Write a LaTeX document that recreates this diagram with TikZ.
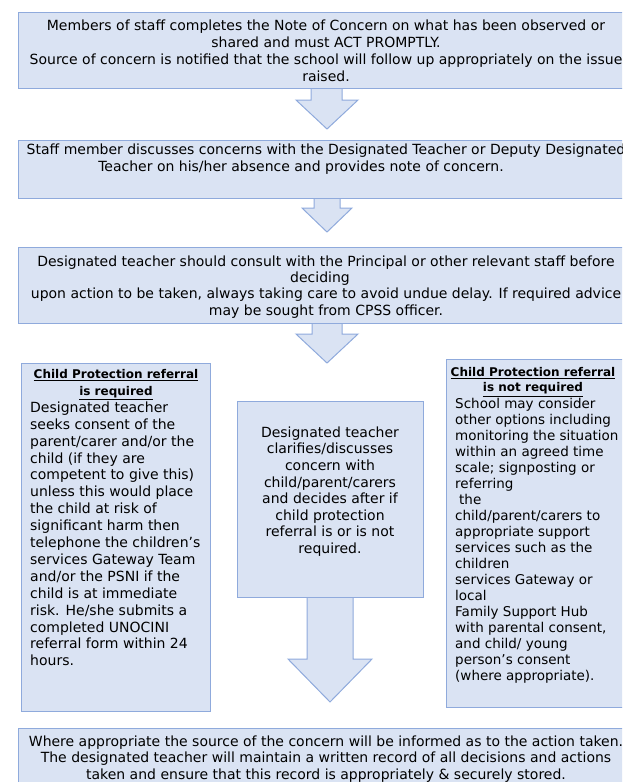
\documentclass[tikz,border=0pt]{standalone}
\usepackage{fontspec}
\setmainfont{DejaVu Sans}
\definecolor{boxfill}{HTML}{DAE3F3}
\definecolor{boxline}{HTML}{8FAADC}
\begin{document}
\begin{tikzpicture}[x=1pt,y=-1pt,
  box/.style={draw=boxline, fill=boxfill, line width=1pt, rectangle, inner sep=0pt, anchor=north west},
  blockarrow/.style={draw=boxline, fill=boxfill, line width=1pt, line join=miter},
  txt/.style={inner sep=0pt, align=center, anchor=north},
  body/.style={inner sep=0pt, align=left, anchor=north west},
  head/.style={inner sep=0pt, align=center, anchor=north, font=\fontsize{12}{16.5}\selectfont\bfseries}]
\useasboundingbox (0,0) rectangle (622,782);
\clip (0,0) rectangle (622,782);
% block arrows (drawn first, boxes cover their tops)
\draw[blockarrow] (311,80) -- (311,100) -- (296,100) -- (327,129) -- (358,100) -- (342,100) -- (342,80) -- cycle;
\draw[blockarrow] (314,190) -- (314,208) -- (302,208) -- (327,232) -- (352,208) -- (340,208) -- (340,190) -- cycle;
\draw[blockarrow] (312,315) -- (312,334) -- (296,334) -- (327,363) -- (358,334) -- (342,334) -- (342,315) -- cycle;
\draw[blockarrow] (307,590) -- (307,659) -- (288,659) -- (330,702) -- (372,659) -- (353,659) -- (353,590) -- cycle;
% boxes
\node[box, minimum width=616pt, minimum height=76pt] (b1) at (18,12) {};
\node[box, minimum width=616pt, minimum height=58pt] (b2) at (18,140) {};
\node[box, minimum width=616pt, minimum height=76pt] (b3) at (18,247) {};
\node[box, minimum width=189pt, minimum height=348pt] (lb) at (21,363) {};
\node[box, minimum width=186pt, minimum height=196pt] (mb) at (237,401) {};
\node[box, minimum width=180pt, minimum height=348pt] (rb) at (446,359) {};
\node[box, minimum width=616pt, minimum height=70pt] (b4) at (18,728) {};
% texts
\node[txt, font=\fontsize{14}{17}\selectfont] (t1) at (326,19.4) {Members of staff completes the Note of Concern on what has been observed or\\
shared and must ACT PROMPTLY.\\
Source of concern is notified that the school will follow up appropriately on the issue\\
raised.};
\node[txt, font=\fontsize{14}{17}\selectfont] (t2) at (326,143.5) {Staff member discusses concerns with the Designated Teacher or Deputy Designated\\
Teacher on his/her absence and provides note of concern.\rule{50pt}{0pt}};
\node[txt, font=\fontsize{14}{16.3}\selectfont] (t3) at (326,255.5) {Designated teacher should consult with the Principal or other relevant staff before\\
deciding\rule{12pt}{0pt}\\
upon action to be taken, always taking care to avoid undue delay. If required advice\\
may be sought from CPSS officer.};
\node[head] (lh) at (116,369.5) {\underline{Child Protection referral}\\ \underline{is required}};
\node[body, font=\fontsize{14}{16.9}\selectfont] (lt) at (30,401.5) {Designated teacher\\
seeks consent of the\\
parent/carer and/or the\\
child (if they are\\
competent to give this)\\
unless this would place\\
the child at risk of\\
significant harm then\\
telephone the children's\\
services Gateway Team\\
and/or the PSNI if the\\
child is at immediate\\
risk. He/she submits a\\
completed UNOCINI\\
referral form within 24\\
hours.};
\node[txt, font=\fontsize{14}{16.6}\selectfont] (mt) at (330,426.5) {Designated teacher\\
clarifies/discusses\\
concern with\\
child/parent/carers\\
and decides after if\\
child protection\\
referral is or is not\\
required.};
\node[head, font=\fontsize{12}{15}\selectfont\bfseries] (rh) at (533,367.5) {\underline{Child Protection referral}\\ \underline{is not required}};
\node[body, font=\fontsize{13.5}{16}\selectfont] (rt) at (455,397.7) {School may consider\\
other options including\\
monitoring the situation\\
within an agreed time\\
scale; signposting or\\
referring\\
\hspace*{4pt}the\\
child/parent/carers to\\
appropriate support\\
services such as the\\
children\\
services Gateway or\\
local\\
Family Support Hub\\
with parental consent,\\
and child/ young\\
person's consent\\
(where appropriate).};
\node[txt, font=\fontsize{14}{16.5}\selectfont] (t4) at (326,735.5) {Where appropriate the source of the concern will be informed as to the action taken.\\
The designated teacher will maintain a written record of all decisions and actions\\
taken and ensure that this record is appropriately \& securely stored.};
\end{tikzpicture}
\end{document}
